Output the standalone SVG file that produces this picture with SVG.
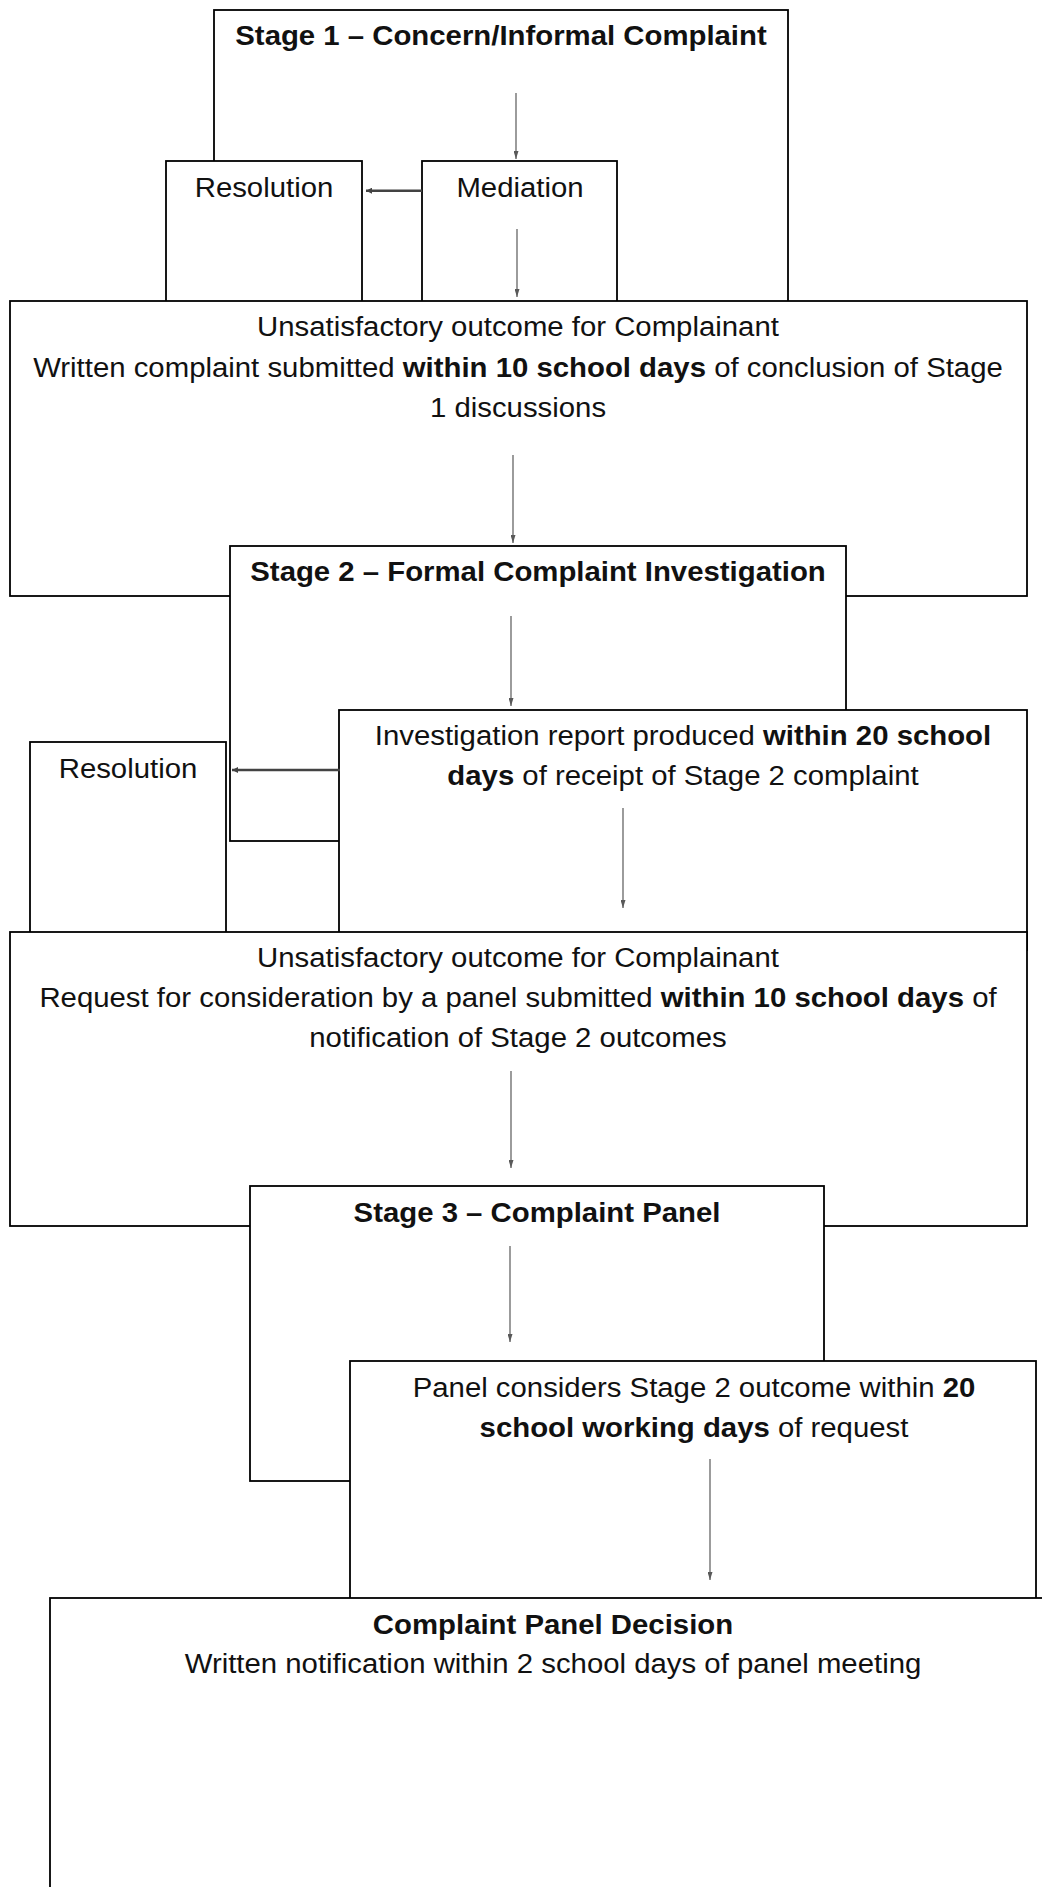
<svg xmlns="http://www.w3.org/2000/svg" width="1042" height="1887" viewBox="0 0 1042 1887">
<style>
.box{fill:#fff;stroke:#000;stroke-width:1.8}
.t{font-family:"Liberation Sans",Arial,sans-serif;font-size:27px;fill:#111;text-anchor:middle}
.b{font-weight:bold}
.thin{stroke:#595959;stroke-width:1.2;fill:none}
.thick{stroke:#434343;stroke-width:2.6;fill:none}
</style>
<defs>
<marker id="ah" markerUnits="userSpaceOnUse" markerWidth="8" markerHeight="5" refX="8" refY="2.5" orient="auto">
<path d="M0,0 L8,2.5 L0,5 z" fill="#595959"/>
</marker>
<marker id="ahk" markerUnits="userSpaceOnUse" markerWidth="6" markerHeight="6" refX="6" refY="3" orient="auto">
<path d="M0,0 L6,3 L0,6 z" fill="#434343"/>
</marker>
</defs>
<rect width="1042" height="1887" fill="#fff"/>
<g id="stage1">
<rect class="box" x="214" y="10" width="574" height="300"/>
<text class="t b" transform="translate(501,0) scale(1.087,1)" x="0" y="45">Stage 1 – Concern/Informal Complaint</text>
</g>
<g id="resolution1">
<rect class="box" x="166" y="161" width="196" height="149"/>
<text class="t" transform="translate(264,0) scale(1.087,1)" x="0" y="197">Resolution</text>
</g>
<g id="mediation">
<rect class="box" x="422" y="161" width="195" height="149"/>
<text class="t" transform="translate(520,0) scale(1.087,1)" x="0" y="197">Mediation</text>
</g>
<g id="unsatisfactory1">
<rect class="box" x="10" y="301" width="1017" height="295"/>
<text class="t" transform="translate(518,0) scale(1.087,1)" x="0" y="336">Unsatisfactory outcome for Complainant</text>
<text class="t" transform="translate(518,0) scale(1.087,1)" x="0" y="377">Written complaint submitted <tspan class="b">within 10 school days</tspan> of conclusion of Stage</text>
<text class="t" transform="translate(518,0) scale(1.087,1)" x="0" y="417">1 discussions</text>
</g>
<g id="stage2">
<rect class="box" x="230" y="546" width="616" height="295"/>
<text class="t b" transform="translate(538,0) scale(1.087,1)" x="0" y="581">Stage 2 – Formal Complaint Investigation</text>
</g>
<g id="investigation">
<rect class="box" x="339" y="710" width="688" height="240"/>
<text class="t" transform="translate(683,0) scale(1.087,1)" x="0" y="745">Investigation report produced <tspan class="b">within 20 school</tspan></text>
<text class="t" transform="translate(683,0) scale(1.087,1)" x="0" y="785"><tspan class="b">days</tspan> of receipt of Stage 2 complaint</text>
</g>
<g id="resolution2">
<rect class="box" x="30" y="742" width="196" height="208"/>
<text class="t" transform="translate(128,0) scale(1.087,1)" x="0" y="778">Resolution</text>
</g>
<g id="unsatisfactory2">
<rect class="box" x="10" y="932" width="1017" height="294"/>
<text class="t" transform="translate(518,0) scale(1.087,1)" x="0" y="967">Unsatisfactory outcome for Complainant</text>
<text class="t" transform="translate(518,0) scale(1.087,1)" x="0" y="1007">Request for consideration by a panel submitted <tspan class="b">within 10 school days</tspan> of</text>
<text class="t" transform="translate(518,0) scale(1.087,1)" x="0" y="1047">notification of Stage 2 outcomes</text>
</g>
<g id="stage3">
<rect class="box" x="250" y="1186" width="574" height="295"/>
<text class="t b" transform="translate(537,0) scale(1.087,1)" x="0" y="1222">Stage 3 – Complaint Panel</text>
</g>
<g id="panel">
<rect class="box" x="350" y="1361" width="686" height="250"/>
<text class="t" transform="translate(694,0) scale(1.087,1)" x="0" y="1397">Panel considers Stage 2 outcome within <tspan class="b">20</tspan></text>
<text class="t" transform="translate(694,0) scale(1.087,1)" x="0" y="1437"><tspan class="b">school working days</tspan> of request</text>
</g>
<g id="decision">
<rect class="box" x="50" y="1598" width="1010" height="300"/>
<text class="t b" transform="translate(553,0) scale(1.087,1)" x="0" y="1634">Complaint Panel Decision</text>
<text class="t" transform="translate(553,0) scale(1.087,1)" x="0" y="1673">Written notification within 2 school days of panel meeting</text>
</g>
<g id="connectors">
<path class="thin" d="M516,93 V159" marker-end="url(#ah)"/>
<path class="thick" d="M422,190.7 H366" marker-end="url(#ahk)"/>
<path class="thin" d="M517,229 V297" marker-end="url(#ah)"/>
<path class="thin" d="M513,455 V543" marker-end="url(#ah)"/>
<path class="thin" d="M511,616 V706" marker-end="url(#ah)"/>
<path class="thick" d="M340,770 H232" marker-end="url(#ahk)"/>
<path class="thin" d="M623,808 V908" marker-end="url(#ah)"/>
<path class="thin" d="M511,1071 V1168" marker-end="url(#ah)"/>
<path class="thin" d="M510,1246 V1342" marker-end="url(#ah)"/>
<path class="thin" d="M710,1459 V1580" marker-end="url(#ah)"/>
</g>
</svg>
